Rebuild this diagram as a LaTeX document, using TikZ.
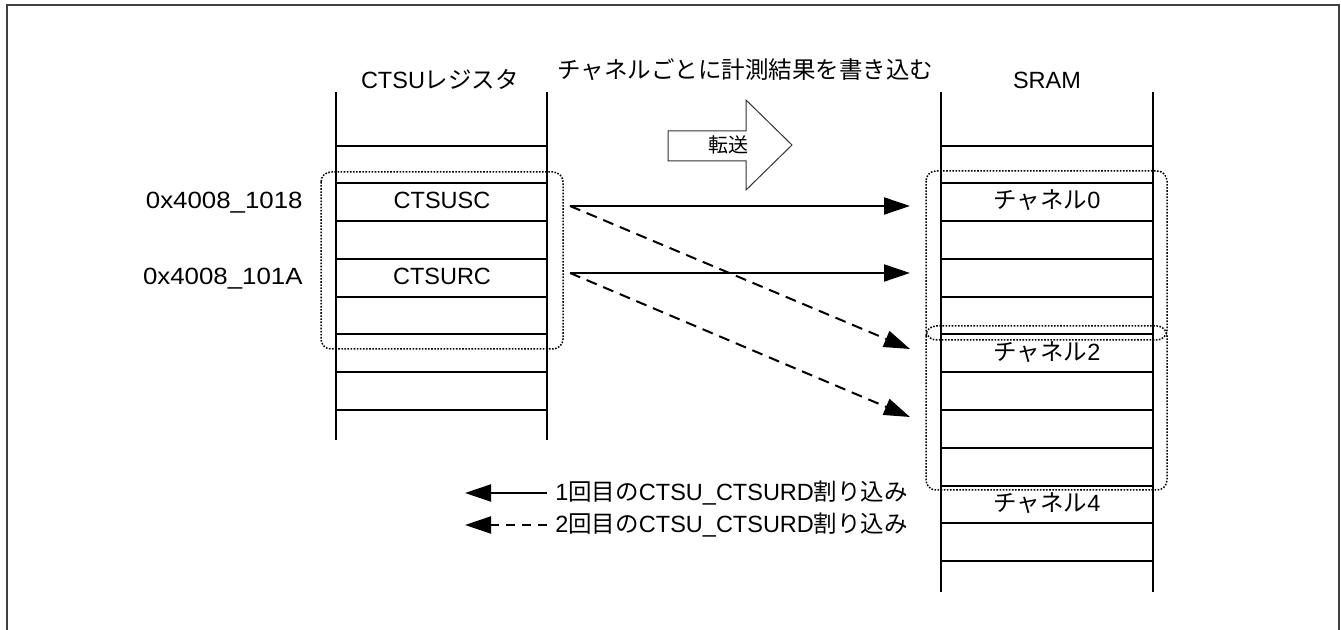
\documentclass[tikz,border=0pt]{standalone}
\usepackage{fontspec}
\setmainfont{Liberation Sans}
\newfontfamily\jp{Noto Sans CJK JP}
\newfontfamily\wide[FakeStretch=1.1]{Liberation Sans}
\usetikzlibrary{arrows.meta}

\begin{document}
\begin{tikzpicture}[x=0.5pt,y=-0.5pt,
  lbl/.style={font=\fontsize{11.75}{14}\selectfont, inner sep=0pt},
  wall/.style={black, line width=0.8pt},
  grp/.style={black, line width=0.75pt, dash pattern=on 0.8pt off 0.75pt, rounded corners=5pt},
  xfer/.style={black, line width=1pt, -{Triangle[length=13pt,width=8.5pt]}},
  xferb/.style={xfer, dash pattern=on 5.5pt off 3.5pt}]
\useasboundingbox (0,0) rectangle (1341,630);
\draw[black!75, line width=1pt] (7,630) -- (7,5) -- (1339,5) -- (1339,630);

% CTSU registers
\draw[wall] (336,92) -- (336,440);
\draw[wall] (547,92) -- (547,440);
\foreach \y in {146,183,221,259,297,334,372,410}
  \draw[wall] (336,\y) -- (547,\y);
\node[lbl, anchor=base] (regtitle) at (440,89) {CTSU{\jp レジスタ}};
\node[lbl, anchor=base] (ctsusc) at (442,209) {CTSUSC};
\node[lbl, anchor=base] (ctsurc) at (442,285) {CTSURC};
\node[lbl, anchor=base east] (addrsc) at (303,209) {\wide 0x4008\_1018};
\node[lbl, anchor=base east] (addrrc) at (303,285) {\wide 0x4008\_101A};
\draw[grp] (321,172) rectangle (563,349);

% SRAM
\draw[wall] (941,92) -- (941,592);
\draw[wall] (1153,92) -- (1153,592);
\foreach \y in {146,183,221,259,297,334,372,410,448,486,523,561}
  \draw[wall] (941,\y) -- (1153,\y);
\node[lbl, anchor=base] (sramtitle) at (1047,89) {SRAM};
\node[lbl, anchor=base] (ch0) at (1047,209) {{\jp チャネル}0};
\node[lbl, anchor=base] (ch2) at (1047,361) {{\jp チャネル}2};
\node[lbl, anchor=base] (ch4) at (1047,512) {{\jp チャネル}4};
\draw[grp] (926,171) rectangle (1167,340);
\draw[grp] (926,326) rectangle (1167,490);

% transfer
\node[lbl, anchor=base west] (caption) at (557,79) {\jp チャネルごとに計測結果を書き込む};
\draw[black!80, line width=0.5pt] (668,131) -- (746,131) -- (746,100) -- (792,145)
  -- (746,190) -- (746,161) -- (668,161) -- cycle;
\node[font={\jp\fontsize{10}{12}\selectfont}, inner sep=0pt] (xferlbl) at (728,145) {転送};

\coordinate (scout) at (570,206);
\coordinate (rcout) at (570,273);
\coordinate (ch0in) at (910,206);
\coordinate (ch1in) at (910,273);
\coordinate (ch2in) at (910,349);
\coordinate (ch3in) at (910,417);
\draw[xfer] (scout) -- (ch0in);
\draw[xfer] (rcout) -- (ch1in);
\draw[xferb] (scout) -- (ch2in);
\draw[xferb] (rcout) -- (ch3in);

% legend
\coordinate (keya) at (547,493);
\coordinate (keyatip) at (465,493);
\coordinate (keyb) at (547,525);
\coordinate (keybtip) at (465,525);
\draw[xfer] (keya) -- (keyatip);
\draw[xferb, dash pattern=on 4.5pt off 3.5pt] (keyb) -- (keybtip);
\node[lbl, anchor=base west] (keyalbl) at (555,501) {1{\jp 回目の}CTSU\_CTSURD{\jp 割り込み}};
\node[lbl, anchor=base west] (keyblbl) at (555,533) {2{\jp 回目の}CTSU\_CTSURD{\jp 割り込み}};
\end{tikzpicture}
\end{document}
